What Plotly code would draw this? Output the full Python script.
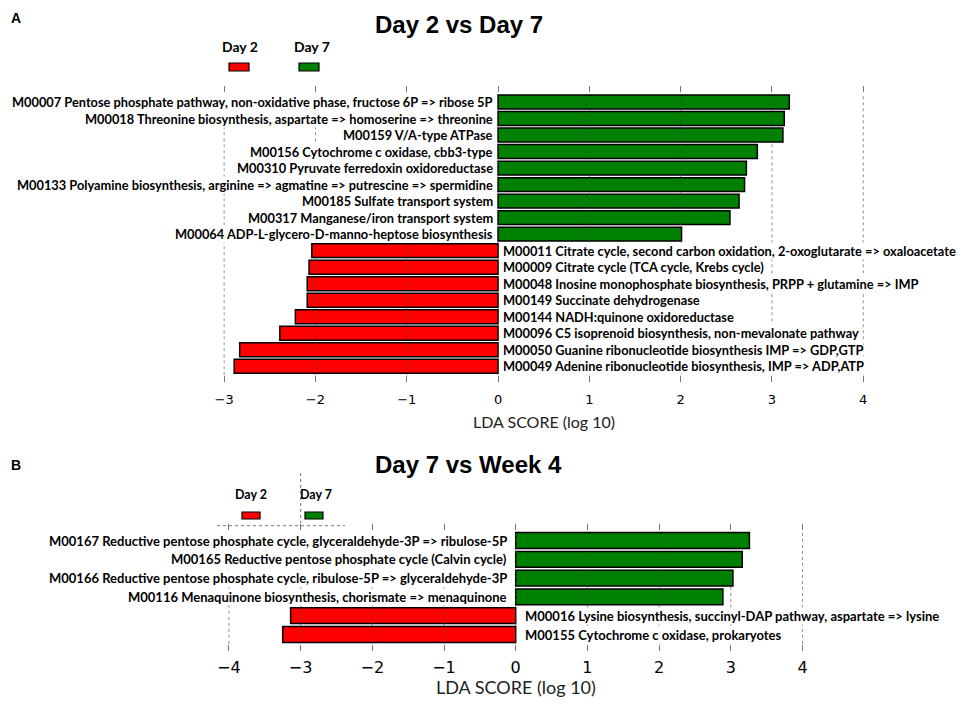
import plotly.graph_objects as go

# ---------------- data ----------------
top_title = "Day 2 vs Day 7"
top_pos_labels = [
    "M00007 Pentose phosphate pathway, non-oxidative phase, fructose 6P => ribose 5P",
    "M00018 Threonine biosynthesis, aspartate => homoserine => threonine",
    "M00159 V/A-type ATPase",
    "M00156 Cytochrome c oxidase, cbb3-type",
    "M00310 Pyruvate ferredoxin oxidoreductase",
    "M00133 Polyamine biosynthesis, arginine => agmatine => putrescine => spermidine",
    "M00185 Sulfate transport system",
    "M00317 Manganese/iron transport system",
    "M00064 ADP-L-glycero-D-manno-heptose biosynthesis",
]
top_pos_values = [3.19, 3.135, 3.12, 2.84, 2.72, 2.70, 2.64, 2.54, 2.01]
top_neg_labels = [
    "M00011 Citrate cycle, second carbon oxidation, 2-oxoglutarate => oxaloacetate",
    "M00009 Citrate cycle (TCA cycle, Krebs cycle)",
    "M00048 Inosine monophosphate biosynthesis, PRPP + glutamine => IMP",
    "M00149 Succinate dehydrogenase",
    "M00144 NADH:quinone oxidoreductase",
    "M00096 C5 isoprenoid biosynthesis, non-mevalonate pathway",
    "M00050 Guanine ribonucleotide biosynthesis IMP => GDP,GTP",
    "M00049 Adenine ribonucleotide biosynthesis, IMP => ADP,ATP",
]
top_neg_values = [-2.04, -2.07, -2.09, -2.09, -2.22, -2.39, -2.83, -2.89]
top_ticks = [-3, -2, -1, 0, 1, 2, 3, 4]

bot_title = "Day 7 vs Week 4"
bot_pos_labels = [
    "M00167 Reductive pentose phosphate cycle, glyceraldehyde-3P => ribulose-5P",
    "M00165 Reductive pentose phosphate cycle (Calvin cycle)",
    "M00166 Reductive pentose phosphate cycle, ribulose-5P => glyceraldehyde-3P",
    "M00116 Menaquinone biosynthesis, chorismate => menaquinone",
]
bot_pos_values = [3.26, 3.16, 3.03, 2.89]
bot_neg_labels = [
    "M00016 Lysine biosynthesis, succinyl-DAP pathway, aspartate => lysine",
    "M00155 Cytochrome c oxidase, prokaryotes",
]
bot_neg_values = [-3.14, -3.25]
bot_ticks = [-4, -3, -2, -1, 0, 1, 2, 3, 4]

group_names = ["Day 2", "Day 7"]
axis_title = "LDA SCORE (log 10)"

# ---------------- styling ----------------
OFF = 8                      # default page margin of the html body
W, H = 964 - 2 * OFF, 707 - 2 * OFF
RED, GREEN = "#ff0000", "#008000"
LABEL_FONT = "Lato, sans-serif"
TICK_FONT = "DejaVu Sans, sans-serif"
TITLE_FONT = "Liberation Sans, Arial, sans-serif"


def px(x):
    return (x - OFF) / W


def py(y):
    return 1 - (y - OFF) / H


fig = go.Figure()

panels = [
    dict(xa="x", ya="y", pos_l=top_pos_labels, pos_v=top_pos_values,
         neg_l=top_neg_labels, neg_v=top_neg_values, ticks=top_ticks,
         xr=[-3.5, 4.5], xdom=[px(178.5), px(908.9)], ydom=[py(375.3), py(93)],
         shift=4, tickfs=13, titlefs=16, title_y=421.7, standoff=6, labfs=12.8),
    dict(xa="x2", ya="y2", pos_l=bot_pos_labels, pos_v=bot_pos_values,
         neg_l=bot_neg_labels, neg_v=bot_neg_values, ticks=bot_ticks,
         xr=[-4.6, 4.6], xdom=[px(185.9), px(845.5)], ydom=[py(643.9), py(531.1)],
         shift=8, tickfs=16, titlefs=18, title_y=687, standoff=3, labfs=13),
]

annotations = []
shapes = []

for i, p in enumerate(panels):
    cats = p["pos_l"] + p["neg_l"]
    fig.add_trace(go.Bar(
        y=p["neg_l"], x=p["neg_v"], orientation="h", width=0.84,
        marker=dict(color=RED, line=dict(color="black", width=1.5)),
        name=group_names[0], showlegend=False, xaxis=p["xa"], yaxis=p["ya"],
        hoverinfo="x+y"))
    fig.add_trace(go.Bar(
        y=p["pos_l"], x=p["pos_v"], orientation="h", width=0.84,
        marker=dict(color=GREEN, line=dict(color="black", width=1.5)),
        name=group_names[1], showlegend=False, xaxis=p["xa"], yaxis=p["ya"],
        hoverinfo="x+y"))

    suffix = "" if i == 0 else "2"
    fig.update_layout(**{
        "xaxis" + suffix: dict(
            domain=p["xdom"], range=p["xr"], anchor=p["ya"],
            tickvals=p["ticks"],
            ticktext=["\u2212%d" % -t if t < 0 else str(t) for t in p["ticks"]],
            ticks="outside", ticklen=6, tickcolor="#777", tickwidth=1,
            mirror="ticks", showline=False, showgrid=False, zeroline=False,
            ticklabelstandoff=p["standoff"],
            tickfont=dict(family=TICK_FONT, size=p["tickfs"], color="black")),
        "yaxis" + suffix: dict(
            domain=p["ydom"], anchor=p["xa"], type="category",
            categoryorder="array", categoryarray=cats, autorange="reversed",
            showticklabels=False, ticks="", showgrid=False, zeroline=False,
            showline=False),
    })

    # dotted grid drawn over the bars
    for t in p["ticks"]:
        shapes.append(dict(type="line", xref=p["xa"], yref=p["ya"] + " domain",
                           x0=t, x1=t, y0=0, y1=1, layer="above",
                           line=dict(color="rgba(70,70,70,0.6)", width=1, dash="dot")))

    for lab in p["pos_l"]:
        annotations.append(dict(
            x=0, y=lab, xref=p["xa"], yref=p["ya"], text="<b>%s</b>" % lab,
            xanchor="right", yanchor="middle", xshift=-p["shift"], showarrow=False,
            bgcolor="white", borderpad=0,
            font=dict(family=LABEL_FONT, size=p["labfs"], color="black")))
    for lab in p["neg_l"]:
        annotations.append(dict(
            x=0, y=lab, xref=p["xa"], yref=p["ya"], text="<b>%s</b>" % lab,
            xanchor="left", yanchor="middle", xshift=p["shift"], showarrow=False,
            bgcolor="white", borderpad=0,
            font=dict(family=LABEL_FONT, size=p["labfs"], color="black")))

    annotations.append(dict(
        x=0.5, y=py(p["title_y"]), xref=p["xa"] + " domain", yref="paper",
        text=axis_title, showarrow=False, xanchor="center", yanchor="middle",
        font=dict(family="Lato, sans-serif", size=p["titlefs"], color="#222")))

# panel titles and letters
annotations += [
    dict(x=px(373), y=py(24), xref="paper", yref="paper", text="<b>%s</b>" % top_title,
         xanchor="left", yanchor="middle", showarrow=False,
         font=dict(family=TITLE_FONT, size=24, color="black")),
    dict(x=px(373), y=py(464), xref="paper", yref="paper", text="<b>%s</b>" % bot_title,
         xanchor="left", yanchor="middle", showarrow=False,
         font=dict(family=TITLE_FONT, size=24, color="black")),
    dict(x=px(9), y=py(18), xref="paper", yref="paper", text="<b>A</b>",
         xanchor="left", yanchor="middle", showarrow=False,
         font=dict(family=TITLE_FONT, size=14, color="black")),
    dict(x=px(9), y=py(465), xref="paper", yref="paper", text="<b>B</b>",
         xanchor="left", yanchor="middle", showarrow=False,
         font=dict(family=TITLE_FONT, size=14, color="black")),
]

# legends (text above small swatches)
legend_specs = [
    # (text centre x, text y, rect x0, x1, y0, y1, fontsize)
    [(240, 46, 229, 249, 63, 71, 14), (312, 46, 299, 319, 63, 71, 14)],
    [(251, 495, 242, 260, 512, 519, 12.5), (316, 495, 305, 323, 512, 519, 12.5)],
]
for specs in legend_specs:
    for (tx, ty, x0, x1, y0, y1, fs), name, col in zip(specs, group_names, [RED, GREEN]):
        annotations.append(dict(x=px(tx), y=py(ty), xref="paper", yref="paper",
                                text="<b>%s</b>" % name, showarrow=False,
                                xanchor="center", yanchor="middle",
                                font=dict(family=LABEL_FONT, size=fs, color="black")))
        shapes.append(dict(type="rect", xref="paper", yref="paper",
                           x0=px(x0), x1=px(x1), y0=py(y1), y1=py(y0),
                           fillcolor=col, line=dict(color="black", width=1.2)))

# dotted artifacts around lower legend
shapes.append(dict(type="line", xref="paper", yref="paper", x0=px(217), x1=px(345),
                   y0=py(525.7), y1=py(525.7),
                   line=dict(color="#777", width=1, dash="dot")))
shapes.append(dict(type="line", xref="paper", yref="paper", x0=px(300.7), x1=px(300.7),
                   y0=py(473), y1=py(523),
                   line=dict(color="#777", width=1, dash="dot")))

fig.update_layout(
    width=W, height=H, margin=dict(l=0, r=0, t=0, b=0),
    paper_bgcolor="white", plot_bgcolor="white",
    barmode="overlay", showlegend=False,
    annotations=annotations, shapes=shapes,
)

fig.write_html("out.html")
